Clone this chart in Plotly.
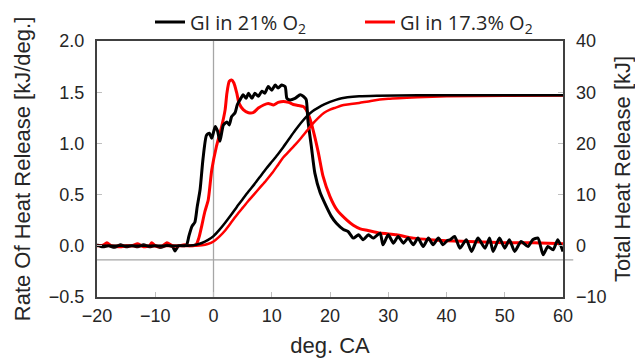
import plotly.graph_objects as go

# ---- data ----
deg_black_rate = [-20, -19, -18, -17, -16, -15, -14, -13, -12, -11, -10, -9, -8, -7, -6.6, -6, -5, -4.6,
                  -4.2, -3.7, -3.2, -2.8, -2.3, -1.8, -1.2, -0.7, -0.3, 0.3, 0.7, 1.1, 1.7, 2.3, 2.7, 3.1,
                  3.7, 4.1, 4.6, 5.1, 5.6, 6.0, 6.6, 7.1, 7.7, 8.3, 8.8, 9.4, 10.0, 10.6, 11.1, 11.7, 12.3,
                  12.6, 13.1, 14.0, 14.9, 15.4, 15.9, 16.2, 16.8, 17.4, 18.3, 19.4, 20.2, 21.1, 22.3, 23.1,
                  24.0, 24.9, 25.7, 26.6, 27.4, 28.6, 29.1, 30.0, 30.9, 31.7, 32.6, 33.4, 34.3, 35.1, 36.0,
                  36.9, 37.7, 38.6, 39.4, 40.1, 40.6, 41.4, 42.3, 43.4, 44.3, 45.4, 46.6, 47.4, 48.0, 49.1,
                  50.0, 50.8, 51.7, 52.8, 54.0, 54.8, 55.7, 56.6, 57.4, 58.3, 59.1, 60.0]
rohr_black = [0.01, -0.01, 0.0, -0.015, 0.01, -0.01, 0.0, -0.01, 0.01, -0.01, 0.0, -0.015, 0.005, -0.01, -0.05,
              0.0, 0.0, 0.01, 0.10, 0.19, 0.23, 0.38, 0.55, 0.85, 1.08, 1.10, 1.05, 1.165, 1.12, 1.02, 1.18,
              1.21, 1.18, 1.26, 1.30, 1.38, 1.43, 1.475, 1.44, 1.49, 1.44, 1.49, 1.46, 1.51, 1.49, 1.555, 1.52,
              1.57, 1.54, 1.57, 1.555, 1.44, 1.425, 1.44, 1.475, 1.46, 1.43, 1.23, 0.97, 0.71, 0.52, 0.38,
              0.29, 0.22, 0.16, 0.14, 0.075, 0.107, 0.059, 0.107, 0.075, 0.124, 0.01, 0.107, 0.026, 0.091,
              0.026, 0.075, 0.01, 0.075, -0.007, 0.075, 0.01, 0.075, 0.01, 0.05, 0.059, 0.091, -0.023, 0.059,
              -0.055, 0.075, -0.023, 0.075, -0.055, 0.075, -0.023, 0.059, -0.055, 0.042, -0.007, 0.059, 0.075,
              -0.088, -0.007, -0.039, 0.059, -0.055]

deg_red_rate = [-20, -19, -18.3, -17.5, -16, -15, -14, -13, -12, -11, -10.6, -10, -9, -8, -7, -6, -5, -4,
                -3.0, -2.5, -2.0, -1.5, -0.9, -0.3, 0.5, 1.4, 2.0, 2.3, 2.7, 3.1, 3.5, 4.0, 4.4, 5.1, 6.0,
                6.8, 7.7, 8.6, 9.4, 10.3, 11.1, 12.0, 12.9, 13.7, 14.6, 15.4, 15.9, 16.5, 17.1, 18.0, 18.8,
                20.0, 21.2, 22.9, 24.0, 25.2, 26.5, 28.6, 31.4, 34.3, 37.1, 40, 45, 50, 55, 60]
rohr_red = [0.0, 0.005, 0.03, 0.0, -0.01, 0.0, 0.0, 0.02, -0.01, 0.0, 0.03, 0.0, -0.01, 0.03, 0.0, 0.0, 0.01,
            0.0, 0.01, 0.08, 0.2, 0.33, 0.45, 0.74, 0.97, 1.165, 1.33, 1.49, 1.605, 1.62, 1.59, 1.49, 1.39,
            1.33, 1.30, 1.30, 1.345, 1.375, 1.39, 1.375, 1.40, 1.41, 1.40, 1.38, 1.37, 1.36, 1.33, 1.25,
            1.13, 0.91, 0.68, 0.48, 0.35, 0.25, 0.2, 0.165, 0.15, 0.124, 0.107, 0.075, 0.06, 0.05, 0.04,
            0.03, 0.03, 0.02]

deg_black_thr = [-20, -5, -4, -3, -2, -1, 0, 1, 2, 3, 4, 5, 6, 7, 8, 9, 10, 11, 12, 13, 14, 15, 16, 17, 18,
                 19, 20, 21, 22, 23, 25, 28, 35, 45, 60]
thr_black = [0.0, 0.0, 0.05, 0.2, 0.55, 1.1, 1.9, 3.1, 4.5, 6.0, 7.6, 9.1, 10.6, 12.0, 13.5, 15.0, 16.4,
             17.8, 19.3, 20.9, 22.5, 24.0, 25.3, 26.3, 27.0, 27.6, 28.1, 28.5, 28.8, 29.0, 29.2, 29.3,
             29.4, 29.4, 29.4]

deg_red_thr = [-20, -3, -2, -1, 0, 1, 2, 3, 4, 5, 6, 7, 8, 9, 10, 11, 12, 13, 14, 15, 16, 17, 18, 19, 20,
               21, 22, 23, 25, 27, 30, 35, 40, 50, 60]
thr_red = [0.0, 0.0, 0.1, 0.35, 0.85, 1.8, 3.0, 4.5, 6.0, 7.4, 8.8, 10.1, 11.4, 12.7, 14.1, 15.7, 17.3,
           18.5, 19.7, 21.0, 22.4, 23.8, 25.0, 26.0, 26.6, 27.0, 27.4, 27.6, 27.9, 28.3, 28.7, 29.0, 29.2,
           29.3, 29.35]

name_black = "GI in 21% O<sub>2</sub>"
name_red = "GI in 17.3% O<sub>2</sub>"

FONT = "Liberation Sans"
LEG_FONT = "Open Sans"
TXT = "#262626"

fig = go.Figure()
fig.add_trace(go.Scatter(x=deg_red_thr, y=thr_red, yaxis="y2", mode="lines", showlegend=False,
                         line=dict(color="#ff0000", width=2.5, shape="spline", smoothing=0.6)))
fig.add_trace(go.Scatter(x=deg_black_thr, y=thr_black, yaxis="y2", mode="lines", showlegend=False,
                         line=dict(color="#000000", width=2.5, shape="spline", smoothing=0.6)))
fig.add_trace(go.Scatter(x=deg_red_rate, y=rohr_red, mode="lines", name=name_red, legend="legend2",
                         line=dict(color="#ff0000", width=3, shape="spline", smoothing=0.6)))
fig.add_trace(go.Scatter(x=deg_black_rate, y=rohr_black, mode="lines", name=name_black, legend="legend",
                         line=dict(color="#000000", width=3, shape="spline", smoothing=0.6)))

# reference lines
fig.add_shape(type="line", xref="x", yref="paper", x0=0, x1=0, y0=0, y1=1,
              line=dict(color="#a6a6a6", width=1.3), layer="below")
fig.add_shape(type="line", xref="paper", yref="y", x0=0, x1=1.022, y0=-0.137, y1=-0.137,
              line=dict(color="#a6a6a6", width=1.3), layer="below")

axis_common = dict(showgrid=False, zeroline=False, ticks="inside", ticklen=5, tickcolor="#bfbfbf",
                   tickwidth=1, tickfont=dict(family=FONT, size=18, color=TXT))
title_font = dict(family=FONT, size=22, color=TXT)
leg_common = dict(orientation="h", yanchor="middle", y=1.074, xanchor="left",
                  font=dict(family=LEG_FONT, size=20, color=TXT), bgcolor="rgba(0,0,0,0)",
                  borderwidth=0, itemwidth=30)

fig.update_layout(
    width=635, height=358,
    margin=dict(l=97, r=72, t=41, b=61, autoexpand=False),
    paper_bgcolor="white", plot_bgcolor="white",
    font=dict(family=FONT, color=TXT),
    xaxis=dict(range=[-20, 60], dtick=10, tick0=-20, showline=True, linecolor="#404040", linewidth=2,
               mirror=True, ticklabelstandoff=1,
               title=dict(text="deg. CA", font=title_font, standoff=14),
               **axis_common),
    yaxis=dict(range=[-0.5, 2.0], dtick=0.5, tick0=-0.5, tickformat=".1f", showline=True,
               linecolor="#404040", linewidth=2, mirror=True, ticklabelstandoff=7,
               title=dict(text="Rate Of Heat Release [kJ/deg.]", font=title_font, standoff=12),
               **axis_common),
    yaxis2=dict(range=[-10, 40], dtick=10, tick0=-10, overlaying="y", side="right", showline=False,
                ticklabelstandoff=12,
                title=dict(text="Total Heat Release [kJ]", font=title_font, standoff=10),
                **axis_common),
    legend=dict(x=(150 - 97) / 466, **leg_common),
    legend2=dict(x=(360 - 97) / 466, **leg_common),
    showlegend=True,
)

fig.write_html("out.html", post_script="document.body.style.margin='0';",
               config={"displayModeBar": False})
